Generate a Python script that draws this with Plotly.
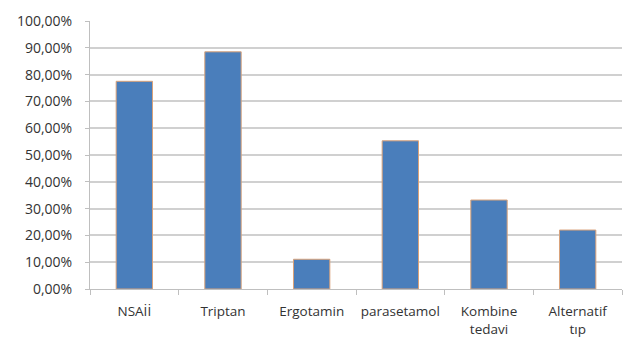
import plotly.graph_objects as go

categories = ["NSAİİ", "Triptan", "Ergotamin", "parasetamol", "Kombine<br>tedavi", "Alternatif<br>tıp"]
values = [0.775, 0.885, 0.111, 0.553, 0.332, 0.220]
y_ticks = [i / 10 for i in range(11)]

fig = go.Figure(go.Bar(
    x=categories, y=values,
    marker=dict(color="#4A7EBB", line=dict(color="#D9A27A", width=1)),
))
fig.update_layout(
    width=624, height=340,
    margin=dict(l=90, r=2, t=21, b=51),
    paper_bgcolor="white", plot_bgcolor="white",
    separators=",.",
    bargap=0.59,
    showlegend=False,
    font=dict(family="Open Sans, Lato, sans-serif", size=14, color="#333333"),
)
fig.update_yaxes(
    range=[0, 1.0], tickvals=y_ticks, tickformat=".2%",
    showgrid=True, gridcolor="#D0D0D0", gridwidth=1.5,
    showline=True, linecolor="#BFBFBF", ticks="outside", ticklen=4, tickcolor="#BFBFBF",
    ticklabelstandoff=10, zeroline=False, automargin=False,
)
fig.update_xaxes(
    showline=True, linecolor="#BFBFBF", ticks="outside", ticklen=5, tickcolor="#BFBFBF",
    tickson="boundaries", showgrid=False, ticklabelstandoff=10,
    tickangle=0, automargin=False, tickfont=dict(size=13.5),
)
fig.write_html("out.html")
